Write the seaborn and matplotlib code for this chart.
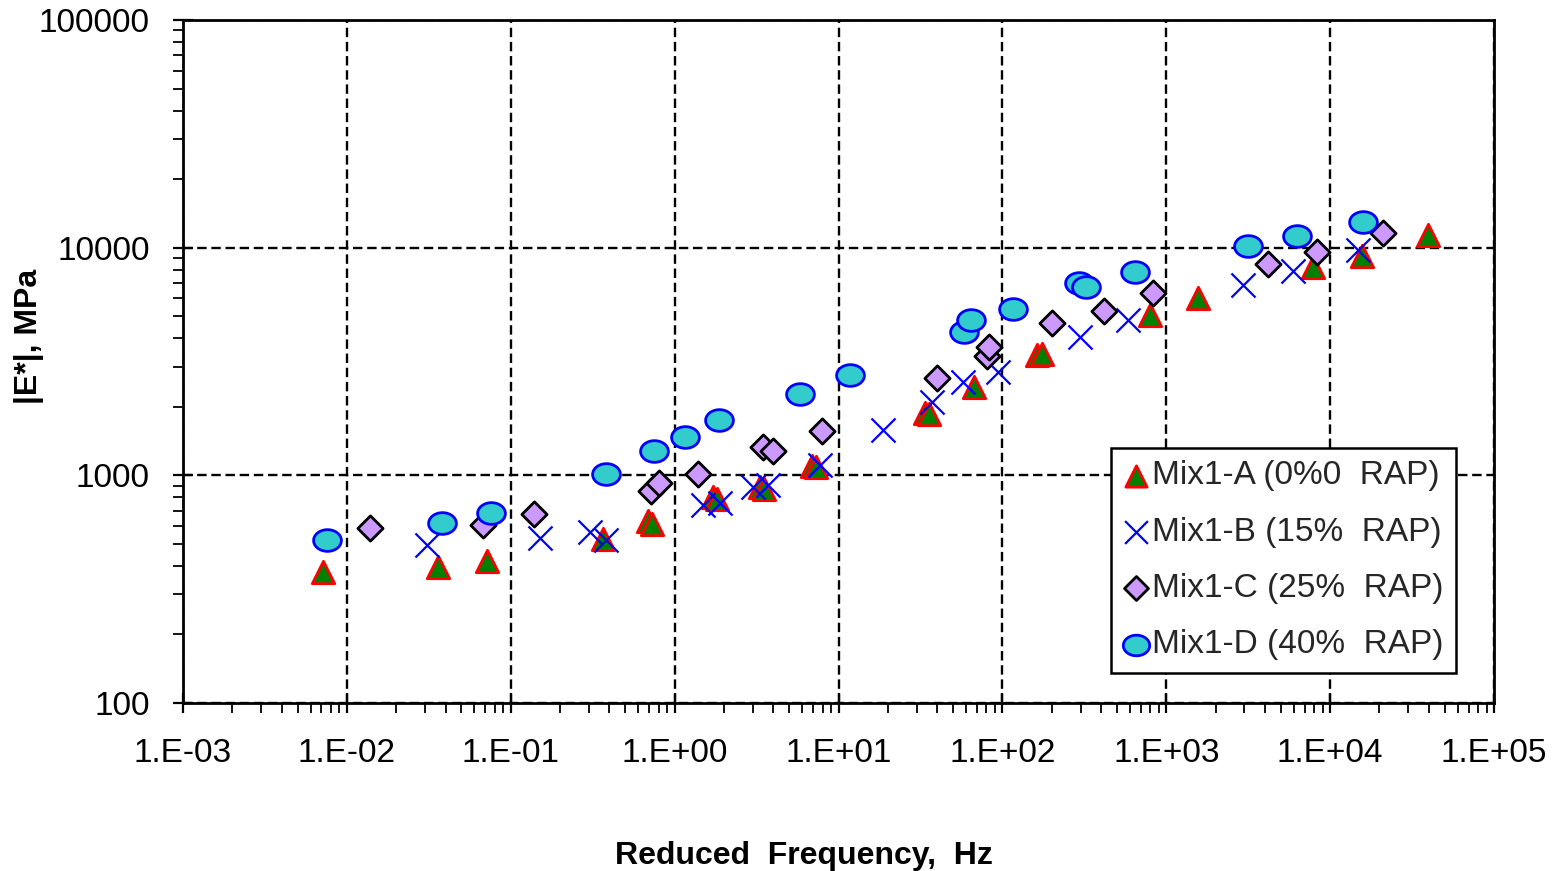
import numpy as np
import pandas as pd
import matplotlib
matplotlib.use("Agg")
import matplotlib.pyplot as plt
from matplotlib.path import Path
from matplotlib.ticker import FixedLocator, FixedFormatter, LogLocator, NullFormatter
import seaborn as sns

# ---------------- data ----------------
mix_a_freq = [0.00715, 0.036, 0.0716, 0.366, 0.687, 0.728, 1.71, 1.81, 3.31, 3.51,
              6.88, 7.28, 33.7, 35.6, 67.0, 162, 174, 794, 1560, 7840, 15600, 39450]
mix_a_mod = [377, 396, 421, 526, 631, 612, 804, 787, 889, 871,
             1100, 1088, 1880, 1862, 2445, 3380, 3414, 5063, 6012, 8230, 9194, 11370]

mix_b_freq = [0.0308, 0.151, 0.304, 0.381, 1.49, 1.89, 3.0, 3.71, 7.7, 18.7,
              37.2, 57.4, 94, 297, 583, 2934, 5918, 14760]
mix_b_mod = [495, 531, 564, 520, 741, 757, 889, 907, 1111, 1582,
             2100, 2570, 2845, 4053, 4814, 6858, 7900, 9770]

mix_c_freq = [0.01384, 0.0676, 0.139, 0.716, 0.80, 1.39, 3.46, 3.98, 7.92, 39.8,
              80.4, 82.7, 200, 416, 828, 4168, 8296, 20990]
mix_c_mod = [588, 605, 677, 853, 926, 1014, 1333, 1280, 1567, 2678,
             3345, 3664, 4670, 5271, 6324, 8476, 9574, 11600]

mix_d_freq = [0.00757, 0.038, 0.0757, 0.381, 0.748, 1.156, 1.862, 5.81, 11.75, 58.2,
              64.3, 116, 293, 323, 643, 3148, 6266, 15820]
mix_d_mod = [520, 618, 684, 1014, 1280, 1475, 1751, 2278, 2761, 4262,
             4814, 5380, 6998, 6717, 7820, 10170, 11250, 12970]

series_labels = ["Mix1-A (0%0  RAP)", "Mix1-B (15%  RAP)",
                 "Mix1-C (25%  RAP)", "Mix1-D (40%  RAP)"]

x_ticks = [1e-3, 1e-2, 1e-1, 1e0, 1e1, 1e2, 1e3, 1e4, 1e5]
x_tick_labels = ["1.E-03", "1.E-02", "1.E-01", "1.E+00", "1.E+01",
                 "1.E+02", "1.E+03", "1.E+04", "1.E+05"]
y_ticks = [100, 1000, 10000, 100000]
y_tick_labels = ["100", "1000", "10000", "100000"]

x_label = "Reduced  Frequency,  Hz"
y_label = "|E*|, MPa"

# ---------------- style ----------------
sns.set_theme(style="white")
plt.rcParams["font.family"] = ["Liberation Sans", "DejaVu Sans"]

fig = plt.figure(figsize=(15.56, 8.71), dpi=100)
ax = fig.add_axes([183 / 1556, 1 - 703 / 871, 1311 / 1556, 683 / 871])

t = np.linspace(0, 2 * np.pi, 80)
ellipse = Path(np.column_stack([np.cos(t), 0.78 * np.sin(t)]), closed=True)

frames = [
    pd.DataFrame({"freq": mix_a_freq, "mod": mix_a_mod}),
    pd.DataFrame({"freq": mix_b_freq, "mod": mix_b_mod}),
    pd.DataFrame({"freq": mix_c_freq, "mod": mix_c_mod}),
    pd.DataFrame({"freq": mix_d_freq, "mod": mix_d_mod}),
]
styles = [
    dict(marker="^", s=260, color="#007F00", edgecolor="#FF0000", linewidth=2.0),
    dict(marker="x", s=300, color="#0000FF", linewidth=1.6),
    dict(marker="D", s=165, color="#CC99FF", edgecolor="#000000", linewidth=2.0),
    dict(marker=ellipse, s=400, color="#33CCCC", edgecolor="#0000FF", linewidth=2.0),
]

for df, st, lab in zip(frames, styles, series_labels):
    sns.scatterplot(data=df, x="freq", y="mod", ax=ax, label=lab, zorder=3, **st)

ax.set_xscale("log")
ax.set_yscale("log")
ax.set_xlim(1e-3, 1e5)
ax.set_ylim(100, 100000)

ax.xaxis.set_major_locator(FixedLocator(x_ticks))
ax.xaxis.set_major_formatter(FixedFormatter(x_tick_labels))
ax.yaxis.set_major_locator(FixedLocator(y_ticks))
ax.yaxis.set_major_formatter(FixedFormatter(y_tick_labels))
ax.xaxis.set_minor_locator(LogLocator(base=10, subs=np.arange(2, 10), numticks=50))
ax.yaxis.set_minor_locator(LogLocator(base=10, subs=np.arange(2, 10), numticks=50))
ax.xaxis.set_minor_formatter(NullFormatter())
ax.yaxis.set_minor_formatter(NullFormatter())

ax.tick_params(which="major", direction="inout", length=14, width=1.6,
               color="black", labelsize=24, labelcolor="black",
               bottom=True, left=True)
ax.tick_params(axis="x", which="major", pad=18)
ax.tick_params(axis="y", which="major", pad=17)
ax.tick_params(which="minor", direction="out", length=7, width=1.3,
               color="black", bottom=True, left=True)

ax.grid(True, which="major", color="black", linestyle=(0, (4.0, 2.0)), linewidth=1.7)
ax.grid(False, which="minor")
ax.set_axisbelow(True)

for sp in ax.spines.values():
    sp.set_visible(True)
    sp.set_color("black")
    sp.set_linewidth(2.0)

ax.set_xlabel(x_label, fontsize=23, fontweight="bold", color="black")
ax.set_ylabel(y_label, fontsize=23, fontweight="bold", color="black")
ax.xaxis.set_label_coords((804 - 183) / 1311, (703 - 841) / 683)
ax.yaxis.set_label_coords((44 - 183) / 1311, (703 - 336) / 683)

leg = ax.legend(loc="lower right", bbox_to_anchor=(0.971, 0.044), borderaxespad=0,
                fontsize=24, frameon=True, fancybox=False, edgecolor="black",
                framealpha=1, handlelength=0.75, handletextpad=0.1,
                labelspacing=0.76, borderpad=0.38, markerscale=0.95)
leg.get_frame().set_linewidth(1.8)

fig.savefig("out.png", dpi=100, facecolor="white")
